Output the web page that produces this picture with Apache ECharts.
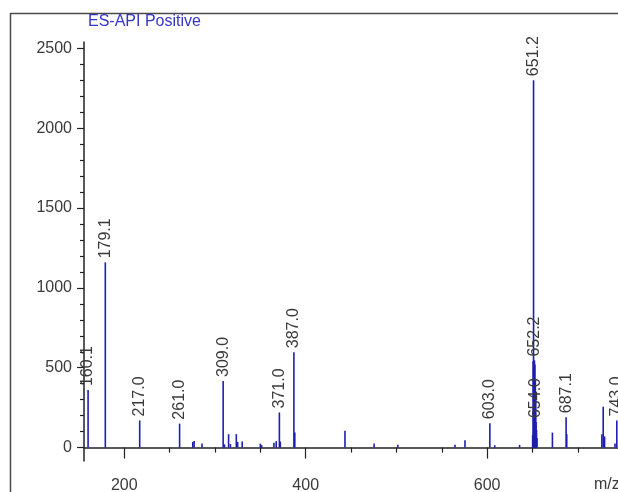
<!DOCTYPE html>
<html>
<head>
<meta charset="utf-8">
<script src="https://cdn.jsdelivr.net/npm/echarts@6/dist/echarts.min.js"></script>
<style>html,body{margin:0;padding:0;background:#fff}#c{width:618px;height:492px}</style>
</head>
<body>
<div id="c"></div>
<script>
// Peak data (m/z, intensity, label)
const mz = [160.1, 179.1, 217.0, 261.0, 275.5, 277.0, 285.7, 309.0, 310.5, 315.0, 317.0, 323.5, 325.0, 330.0, 350.0, 351.5, 365.0, 367.5, 371.0, 372.0, 387.0, 388.0, 443.3, 475.4, 501.6, 564.6, 575.6, 603.0, 608.4, 635.8, 650.2, 650.7, 651.2, 651.7, 652.2, 652.7, 653.2, 653.6, 654.0, 654.5, 655.0, 672.0, 687.1, 687.8, 726.5, 728.0, 729.5, 741.0, 743.0];
const intensity = [360, 1160, 170, 150, 35, 42, 25, 417, 20, 84, 22, 84, 35, 38, 25, 15, 30, 40, 220, 38, 597, 94, 105, 25, 17, 17, 46, 153, 15, 17, 80, 540, 2301, 545, 545, 520, 420, 300, 160, 110, 60, 94, 190, 84, 84, 256, 70, 25, 170];
const peakLabels = ['160.1', '179.1', '217.0', '261.0', '', '', '', '309.0', '', '', '', '', '', '', '', '', '', '', '371.0', '', '387.0', '', '', '', '', '', '', '603.0', '', '', '', '', '651.2', '', '652.2', '', '', '', '654.0', '', '', '', '687.1', '', '', '', '', '', '743.0'];

const yMajorTicks = [0, 500, 1000, 1500, 2000, 2500];
const yMinorTicks = [100, 200, 300, 400, 600, 700, 800, 900, 1100, 1200, 1300, 1400, 1600, 1700, 1800, 1900, 2100, 2200, 2300, 2400];
const xMajorTicks = [200, 400, 600];
const xMinorTicks = [250, 300, 350, 450, 500, 550, 650, 700];
const xAxisTitle = 'm/z';

const peakData = mz.map((m, i) => [m, intensity[i], peakLabels[i]]);
const labelData = peakData.filter(d => d[2] !== '');

const barColor = '#1f1fae';
const textColor = '#3a3a3a';
const axisColor = '#222';
const font = 'Liberation Sans, Arial, sans-serif';

const chart = echarts.init(document.getElementById('c'), null, {renderer: 'canvas'});
chart.setOption({
  animation: false,
  backgroundColor: '#fff',
  grid: {left: 84, right: 0, top: 42, bottom: 31, containLabel: false, outerBoundsMode: 'none'},
  graphic: [
    {type: 'rect', left: 8, top: 11, shape: {width: 700, height: 520}, style: {fill: 'none', stroke: '#4a4a4a', lineWidth: 1.5}, silent: true},
    {type: 'text', left: 88, top: 14, style: {text: 'ES-API Positive', fill: '#3535c8', font: '16px ' + font}},
    {type: 'text', x: 594, y: 477, style: {text: xAxisTitle, fill: textColor, font: '16px ' + font}}
  ],
  xAxis: [{
    type: 'value', min: 155.6, max: 744.3, position: 'bottom',
    axisLine: {show: true, lineStyle: {color: axisColor, width: 1.5}},
    axisTick: {show: true, inside: false, length: 11, customValues: xMajorTicks, lineStyle: {color: axisColor, width: 1.2}},
    axisLabel: {show: true, customValues: xMajorTicks, margin: 17, color: textColor, fontSize: 16, fontFamily: font, formatter: v => String(v)},
    splitLine: {show: false}
  }, {
    type: 'value', min: 155.6, max: 744.3, position: 'bottom',
    axisLine: {show: false},
    axisTick: {show: true, length: 5, customValues: xMinorTicks, lineStyle: {color: axisColor, width: 1.2}},
    axisLabel: {show: false},
    splitLine: {show: false}
  }],
  yAxis: [{
    type: 'value', min: -84, max: 2540, position: 'left',
    axisLine: {show: true, lineStyle: {color: axisColor, width: 1.5}},
    axisTick: {show: true, length: 7, customValues: yMajorTicks, lineStyle: {color: axisColor, width: 1.2}},
    axisLabel: {show: true, customValues: yMajorTicks, margin: 12, color: textColor, fontSize: 16, fontFamily: font, formatter: v => String(v)},
    splitLine: {show: false}
  }, {
    type: 'value', min: -84, max: 2540, position: 'left',
    axisLine: {show: false},
    axisTick: {show: true, length: 4, customValues: yMinorTicks, lineStyle: {color: axisColor, width: 1.2}},
    axisLabel: {show: false},
    splitLine: {show: false}
  }],
  series: [{
    type: 'custom',
    xAxisIndex: 0, yAxisIndex: 0,
    data: peakData,
    z: 2,
    renderItem: function (params, api) {
      const base = api.coord([api.value(0), 0]);
      const top = api.coord([api.value(0), api.value(1)]);
      return {
        type: 'line',
        shape: {x1: base[0], y1: base[1], x2: top[0], y2: top[1]},
        style: {stroke: barColor, lineWidth: 1.6}
      };
    }
  }, {
    type: 'custom',
    xAxisIndex: 0, yAxisIndex: 0,
    data: labelData,
    z: 5,
    renderItem: function (params, api) {
      const top = api.coord([api.value(0), api.value(1)]);
      return {
        type: 'text',
        x: top[0], y: top[1] - 4,
        rotation: Math.PI / 2,
        style: {text: labelData[params.dataIndex][2], fill: textColor, font: '16px ' + font, align: 'left', verticalAlign: 'middle'}
      };
    }
  }]
});
</script>
</body>
</html>
